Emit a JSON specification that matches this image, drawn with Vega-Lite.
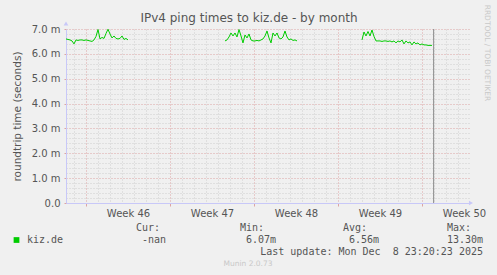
{
  "$schema": "https://vega.github.io/schema/vega-lite/v6.json",
  "width": 403,
  "height": 174,
  "autosize": {"type": "none"},
  "padding": {"left": 66, "top": 29, "right": 28, "bottom": 72},
  "background": "#f0f0f0",
  "config": {
    "view": {"stroke": null},
    "font": "DejaVu Sans",
    "axis": {"labelFont": "DejaVu Sans", "titleFont": "DejaVu Sans"}
  },
  "resolve": {"axis": {"x": "independent", "y": "independent"}},
  "layer": [
    {
      "data": {"values": [{}]},
      "mark": {"type": "point", "shape": "triangle-right", "size": 22, "filled": true, "opacity": 1, "color": "#c8c8f8", "clip": false},
      "encoding": {
        "x": {
          "datum": 32.083,
          "type": "quantitative",
          "scale": {"domain": [-1.667, 31.917], "nice": false, "zero": false},
          "axis": {
            "orient": "bottom",
            "values": [-1, 0, 1, 2, 3, 4, 5, 6, 7, 8, 9, 10, 11, 12, 13, 14, 15, 16, 17, 18, 19, 20, 21, 22, 23, 24, 25, 26, 27, 28, 29, 30, 31],
            "grid": true,
            "gridColor": {"condition": {"test": "datum.value % 7 === 0", "value": "#dca4a4"}, "value": "#cfcfcf"},
            "gridDash": [1, 2],
            "gridWidth": 1,
            "labels": false,
            "ticks": true,
            "tickSize": 3,
            "tickColor": {"condition": {"test": "datum.value % 7 === 0", "value": "#dca4a4"}, "value": "transparent"},
            "domain": false,
            "title": null
          }
        },
        "y": {
          "datum": 0,
          "type": "quantitative",
          "scale": {"domain": [0, 7], "nice": false, "zero": false},
          "axis": {
            "orient": "left",
            "values": [0, 0.2, 0.4, 0.6, 0.8, 1, 1.2, 1.4, 1.6, 1.8, 2, 2.2, 2.4, 2.6, 2.8, 3, 3.2, 3.4, 3.6, 3.8, 4, 4.2, 4.4, 4.6, 4.8, 5, 5.2, 5.4, 5.6, 5.8, 6, 6.2, 6.4, 6.6, 6.8, 7],
            "grid": true,
            "gridColor": {"condition": {"test": "datum.value % 1 === 0", "value": "#dca4a4"}, "value": "#cfcfcf"},
            "gridDash": [1, 2],
            "gridWidth": 1,
            "labels": false,
            "ticks": true,
            "tickSize": 2,
            "tickColor": {"condition": {"test": "datum.value % 1 === 0", "value": "#dca4a4"}, "value": "transparent"},
            "domain": false,
            "title": null
          }
        }
      }
    },
    {
      "data": {
        "values": [
          {"d": -1.667, "v": 6.60, "s": 1}, {"d": -1.5, "v": 6.58, "s": 1}, {"d": -1.333, "v": 6.56, "s": 1}, {"d": -1.167, "v": 6.52, "s": 1},
          {"d": -1.0, "v": 6.40, "s": 1}, {"d": -0.833, "v": 6.56, "s": 1}, {"d": -0.667, "v": 6.54, "s": 1}, {"d": -0.5, "v": 6.56, "s": 1},
          {"d": -0.333, "v": 6.56, "s": 1}, {"d": -0.167, "v": 6.54, "s": 1}, {"d": 0.0, "v": 6.56, "s": 1}, {"d": 0.167, "v": 6.54, "s": 1},
          {"d": 0.333, "v": 6.52, "s": 1}, {"d": 0.5, "v": 6.50, "s": 1}, {"d": 0.667, "v": 6.56, "s": 1}, {"d": 0.833, "v": 6.70, "s": 1},
          {"d": 1.0, "v": 6.98, "s": 1}, {"d": 1.167, "v": 6.60, "s": 1}, {"d": 1.333, "v": 6.66, "s": 1}, {"d": 1.5, "v": 6.62, "s": 1},
          {"d": 1.667, "v": 6.82, "s": 1}, {"d": 1.833, "v": 6.99, "s": 1}, {"d": 2.0, "v": 6.80, "s": 1}, {"d": 2.167, "v": 6.64, "s": 1},
          {"d": 2.333, "v": 6.72, "s": 1}, {"d": 2.5, "v": 6.62, "s": 1}, {"d": 2.667, "v": 6.60, "s": 1}, {"d": 2.833, "v": 6.62, "s": 1},
          {"d": 3.0, "v": 6.72, "s": 1}, {"d": 3.167, "v": 6.58, "s": 1}, {"d": 3.333, "v": 6.62, "s": 1}, {"d": 3.5, "v": 6.56, "s": 1},
          {"d": 11.583, "v": 6.52, "s": 2}, {"d": 11.75, "v": 6.56, "s": 2}, {"d": 11.917, "v": 6.68, "s": 2}, {"d": 12.083, "v": 6.84, "s": 2},
          {"d": 12.25, "v": 6.72, "s": 2}, {"d": 12.417, "v": 6.84, "s": 2}, {"d": 12.583, "v": 6.68, "s": 2}, {"d": 12.75, "v": 6.98, "s": 2},
          {"d": 12.917, "v": 6.72, "s": 2}, {"d": 13.083, "v": 6.44, "s": 2}, {"d": 13.25, "v": 6.76, "s": 2}, {"d": 13.417, "v": 6.64, "s": 2},
          {"d": 13.583, "v": 6.80, "s": 2}, {"d": 13.75, "v": 6.56, "s": 2}, {"d": 13.917, "v": 6.52, "s": 2}, {"d": 14.083, "v": 6.52, "s": 2},
          {"d": 14.25, "v": 6.54, "s": 2}, {"d": 14.417, "v": 6.52, "s": 2}, {"d": 14.583, "v": 6.56, "s": 2}, {"d": 14.75, "v": 6.60, "s": 2},
          {"d": 14.917, "v": 6.72, "s": 2}, {"d": 15.083, "v": 6.92, "s": 2}, {"d": 15.25, "v": 6.64, "s": 2}, {"d": 15.417, "v": 6.44, "s": 2},
          {"d": 15.583, "v": 6.84, "s": 2}, {"d": 15.75, "v": 6.72, "s": 2}, {"d": 15.917, "v": 6.84, "s": 2}, {"d": 16.083, "v": 6.64, "s": 2},
          {"d": 16.25, "v": 6.60, "s": 2}, {"d": 16.417, "v": 6.68, "s": 2}, {"d": 16.583, "v": 6.92, "s": 2}, {"d": 16.75, "v": 6.68, "s": 2},
          {"d": 16.917, "v": 6.56, "s": 2}, {"d": 17.083, "v": 6.60, "s": 2}, {"d": 17.25, "v": 6.54, "s": 2}, {"d": 17.417, "v": 6.56, "s": 2},
          {"d": 17.583, "v": 6.52, "s": 2},
          {"d": 23.0, "v": 6.56, "s": 3}, {"d": 23.167, "v": 6.88, "s": 3}, {"d": 23.333, "v": 6.72, "s": 3}, {"d": 23.5, "v": 6.90, "s": 3},
          {"d": 23.667, "v": 6.72, "s": 3}, {"d": 23.833, "v": 6.96, "s": 3}, {"d": 24.0, "v": 6.70, "s": 3}, {"d": 24.167, "v": 6.52, "s": 3},
          {"d": 24.333, "v": 6.52, "s": 3}, {"d": 24.5, "v": 6.52, "s": 3}, {"d": 24.667, "v": 6.50, "s": 3}, {"d": 24.833, "v": 6.52, "s": 3},
          {"d": 25.0, "v": 6.52, "s": 3}, {"d": 25.167, "v": 6.50, "s": 3}, {"d": 25.333, "v": 6.52, "s": 3}, {"d": 25.5, "v": 6.48, "s": 3},
          {"d": 25.667, "v": 6.52, "s": 3}, {"d": 25.833, "v": 6.44, "s": 3}, {"d": 26.0, "v": 6.52, "s": 3}, {"d": 26.167, "v": 6.48, "s": 3},
          {"d": 26.333, "v": 6.56, "s": 3}, {"d": 26.5, "v": 6.40, "s": 3}, {"d": 26.667, "v": 6.52, "s": 3}, {"d": 26.833, "v": 6.44, "s": 3},
          {"d": 27.0, "v": 6.48, "s": 3}, {"d": 27.167, "v": 6.36, "s": 3}, {"d": 27.333, "v": 6.48, "s": 3}, {"d": 27.5, "v": 6.40, "s": 3},
          {"d": 27.667, "v": 6.44, "s": 3}, {"d": 27.833, "v": 6.36, "s": 3}, {"d": 28.0, "v": 6.40, "s": 3}, {"d": 28.167, "v": 6.36, "s": 3},
          {"d": 28.333, "v": 6.36, "s": 3}, {"d": 28.5, "v": 6.34, "s": 3}, {"d": 28.667, "v": 6.34, "s": 3}, {"d": 28.833, "v": 6.34, "s": 3}
        ]
      },
      "mark": {"type": "line", "color": "#00cc00", "strokeWidth": 1},
      "encoding": {
        "x": {
          "field": "d",
          "type": "quantitative",
          "axis": {
            "orient": "bottom",
            "values": [3.5, 10.5, 17.5, 24.5, 31.5],
            "labelExpr": "'Week ' + (46 + (datum.value - 3.5) / 7)",
            "grid": false,
            "ticks": false,
            "tickSize": 0,
            "labelPadding": 5,
            "labelFontSize": 10,
            "labelColor": "#555555",
            "domain": true,
            "domainColor": "#c8c8f8",
            "title": null
          }
        },
        "y": {
          "field": "v",
          "type": "quantitative",
          "axis": {
            "orient": "left",
            "values": [0, 1, 2, 3, 4, 5, 6, 7],
            "labelExpr": "datum.value === 0 ? '0.0' : format(datum.value, '.1f') + ' m'",
            "grid": false,
            "ticks": false,
            "tickSize": 0,
            "labelPadding": 6,
            "labelFontSize": 10,
            "labelColor": "#555555",
            "domain": true,
            "domainColor": "#c8c8f8",
            "title": "roundtrip time (seconds)",
            "titleFontSize": 10.5,
            "titleFontWeight": "normal",
            "titleColor": "#555555",
            "titlePadding": 9
          }
        },
        "detail": {"field": "s", "type": "nominal"}
      }
    },
    {
      "data": {"values": [{}]},
      "mark": {"type": "rule", "color": "#8c8c8c", "strokeWidth": 1},
      "encoding": {"x": {"datum": 28.97, "type": "quantitative", "axis": null}}
    },
    {
      "data": {"values": [{}]},
      "mark": {"type": "point", "shape": "triangle-up", "size": 22, "filled": true, "opacity": 1, "color": "#c8c8f8", "clip": false},
      "encoding": {
        "x": {"datum": -1.667, "type": "quantitative", "axis": null},
        "y": {"datum": 7.22, "type": "quantitative", "axis": null}
      }
    },
    {
      "data": {"values": [{}]},
      "mark": {"type": "text", "align": "center", "baseline": "alphabetic", "font": "DejaVu Sans", "fontSize": 12, "color": "#555555", "clip": false},
      "encoding": {
        "x": {"datum": 13.583, "type": "quantitative", "axis": null},
        "y": {"datum": 7.282, "type": "quantitative", "axis": null},
        "text": {"value": "IPv4 ping times to kiz.de - by month"}
      }
    },
    {
      "data": {"values": [{}]},
      "mark": {"type": "point", "shape": "square", "size": 33, "filled": true, "opacity": 1, "color": "#00cc00", "clip": false},
      "encoding": {
        "x": {"datum": -5.792, "type": "quantitative", "axis": null},
        "y": {"datum": -1.489, "type": "quantitative", "axis": null}
      }
    },
    {
      "data": {"values": [{}]},
      "mark": {"type": "text", "align": "left", "baseline": "middle", "font": "DejaVu Sans Mono", "fontSize": 10, "color": "#555555", "clip": false},
      "encoding": {
        "x": {"datum": -4.917, "type": "quantitative", "axis": null},
        "y": {"datum": -1.489, "type": "quantitative", "axis": null},
        "text": {"value": "kiz.de"}
      }
    },
    {
      "data": {"values": [{}]},
      "mark": {"type": "text", "align": "left", "baseline": "middle", "font": "DejaVu Sans Mono", "fontSize": 10, "color": "#555555", "clip": false},
      "encoding": {
        "x": {"datum": 4.167, "type": "quantitative", "axis": null},
        "y": {"datum": -0.994, "type": "quantitative", "axis": null},
        "text": {"value": "Cur:"}
      }
    },
    {
      "data": {"values": [{}]},
      "mark": {"type": "text", "align": "left", "baseline": "middle", "font": "DejaVu Sans Mono", "fontSize": 10, "color": "#555555", "clip": false},
      "encoding": {
        "x": {"datum": 12.833, "type": "quantitative", "axis": null},
        "y": {"datum": -0.994, "type": "quantitative", "axis": null},
        "text": {"value": "Min:"}
      }
    },
    {
      "data": {"values": [{}]},
      "mark": {"type": "text", "align": "left", "baseline": "middle", "font": "DejaVu Sans Mono", "fontSize": 10, "color": "#555555", "clip": false},
      "encoding": {
        "x": {"datum": 21.417, "type": "quantitative", "axis": null},
        "y": {"datum": -0.994, "type": "quantitative", "axis": null},
        "text": {"value": "Avg:"}
      }
    },
    {
      "data": {"values": [{}]},
      "mark": {"type": "text", "align": "left", "baseline": "middle", "font": "DejaVu Sans Mono", "fontSize": 10, "color": "#555555", "clip": false},
      "encoding": {
        "x": {"datum": 30.083, "type": "quantitative", "axis": null},
        "y": {"datum": -0.994, "type": "quantitative", "axis": null},
        "text": {"value": "Max:"}
      }
    },
    {
      "data": {"values": [{}]},
      "mark": {"type": "text", "align": "left", "baseline": "middle", "font": "DejaVu Sans Mono", "fontSize": 10, "color": "#555555", "clip": false},
      "encoding": {
        "x": {"datum": 4.667, "type": "quantitative", "axis": null},
        "y": {"datum": -1.489, "type": "quantitative", "axis": null},
        "text": {"value": "-nan"}
      }
    },
    {
      "data": {"values": [{}]},
      "mark": {"type": "text", "align": "left", "baseline": "middle", "font": "DejaVu Sans Mono", "fontSize": 10, "color": "#555555", "clip": false},
      "encoding": {
        "x": {"datum": 13.333, "type": "quantitative", "axis": null},
        "y": {"datum": -1.489, "type": "quantitative", "axis": null},
        "text": {"value": "6.07m"}
      }
    },
    {
      "data": {"values": [{}]},
      "mark": {"type": "text", "align": "left", "baseline": "middle", "font": "DejaVu Sans Mono", "fontSize": 10, "color": "#555555", "clip": false},
      "encoding": {
        "x": {"datum": 21.917, "type": "quantitative", "axis": null},
        "y": {"datum": -1.489, "type": "quantitative", "axis": null},
        "text": {"value": "6.56m"}
      }
    },
    {
      "data": {"values": [{}]},
      "mark": {"type": "text", "align": "left", "baseline": "middle", "font": "DejaVu Sans Mono", "fontSize": 10, "color": "#555555", "clip": false},
      "encoding": {
        "x": {"datum": 30.083, "type": "quantitative", "axis": null},
        "y": {"datum": -1.489, "type": "quantitative", "axis": null},
        "text": {"value": "13.30m"}
      }
    },
    {
      "data": {"values": [{}]},
      "mark": {"type": "text", "align": "right", "baseline": "middle", "font": "DejaVu Sans Mono", "fontSize": 10, "color": "#555555", "clip": false},
      "encoding": {
        "x": {"datum": 33.083, "type": "quantitative", "axis": null},
        "y": {"datum": -1.959, "type": "quantitative", "axis": null},
        "text": {"value": "Last update: Mon Dec \u00a08 23:20:23 2025"}
      }
    },
    {
      "data": {"values": [{}]},
      "mark": {"type": "text", "align": "center", "baseline": "middle", "font": "DejaVu Sans", "fontSize": 7.5, "color": "#c8c8c8", "clip": false},
      "encoding": {
        "x": {"datum": 13.5, "type": "quantitative", "axis": null},
        "y": {"datum": -2.454, "type": "quantitative", "axis": null},
        "text": {"value": "Munin 2.0.73"}
      }
    },
    {
      "data": {"values": [{}]},
      "mark": {"type": "text", "align": "center", "baseline": "middle", "angle": 90, "font": "DejaVu Sans", "fontSize": 7.5, "color": "#c8c8c8", "clip": false},
      "encoding": {
        "x": {"datum": 33.417, "type": "quantitative", "axis": null},
        "y": {"datum": 6.035, "type": "quantitative", "axis": null},
        "text": {"value": "RRDTOOL / TOBI OETIKER"}
      }
    }
  ]
}
